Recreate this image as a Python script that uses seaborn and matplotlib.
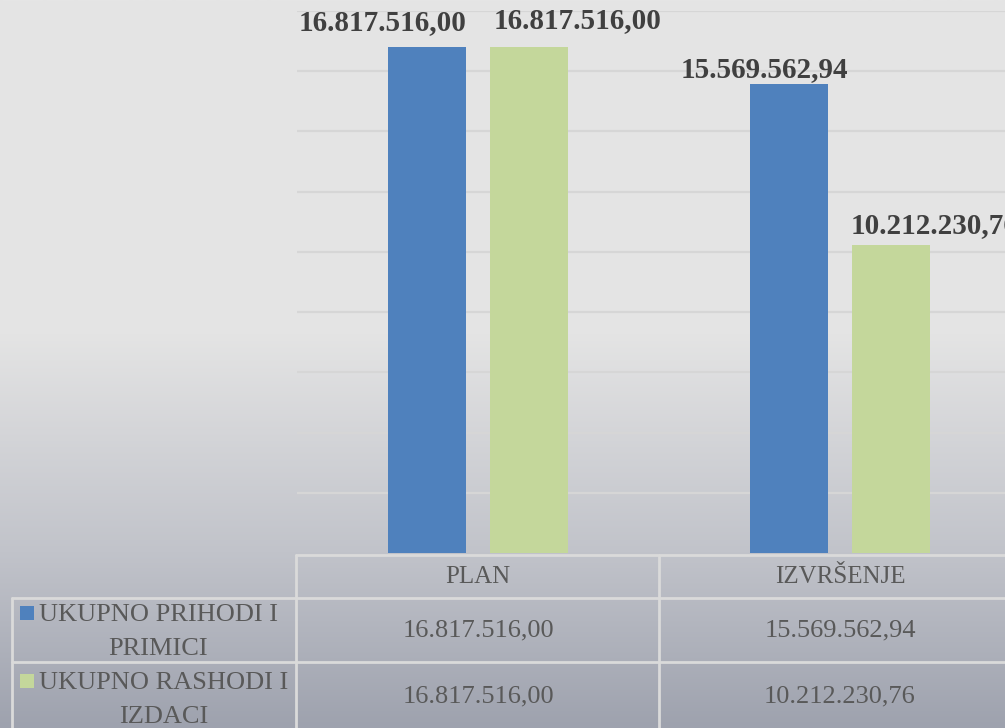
import numpy as np
import pandas as pd
import matplotlib
matplotlib.use('Agg')
import matplotlib.pyplot as plt
import matplotlib.transforms as mtransforms
from matplotlib.colors import LinearSegmentedColormap
from matplotlib.lines import Line2D
from matplotlib.patches import Rectangle
import seaborn as sns

# ── Data ─────────────────────────────────────────────────────
categories = ['PLAN', 'IZVRŠENJE']
series = ['UKUPNO PRIHODI I\nPRIMICI', 'UKUPNO RASHODI I\nIZDACI']
prihodi = [16817516.00, 15569562.94]
rashodi = [16817516.00, 10212230.76]
colors = ['#4f81bd', '#c4d79b']

df = pd.DataFrame({
    'kategorija': categories * 2,
    'serija': [series[0]] * 2 + [series[1]] * 2,
    'iznos': prihodi + rashodi,
})


def fmt(v):
    return f"{v:,.2f}".replace(",", "X").replace(".", ",").replace("X", ".")


sns.set_theme(style='white')
plt.rcParams['font.family'] = ['Liberation Serif', 'DejaVu Serif']

W, H = 1005, 728
fig = plt.figure(figsize=(W / 100, H / 100), dpi=100)

# ── background gradient ─────────────────────────────────────
bg = fig.add_axes([0, 0, 1, 1], zorder=-10)
cmap = LinearSegmentedColormap.from_list(
    'bg', [(0, '#e5e5e5'), (0.46, '#e4e4e4'), (0.76, '#c1c3ca'), (1.0, '#9ea2ae')])
bg.imshow(np.linspace(0, 1, 256).reshape(-1, 1), aspect='auto', cmap=cmap,
          extent=[0, 1, 0, 1], origin='upper')
bg.set_axis_off()


def px(x, y):
    return x / W, 1 - y / H


# ── main bar axes (extends past right edge, like the cropped original) ──
left, top = 297, 11
right, base = 1021, 553
ax = fig.add_axes([left / W, 1 - base / H, (right - left) / W, (base - top) / H])
ax.patch.set_alpha(0)
sns.barplot(data=df, x='kategorija', y='iznos', hue='serija', palette=colors,
            width=0.564, gap=0.227, saturation=1, legend=False, ax=ax,
            linewidth=0, edgecolor='none', zorder=3)
ax.set_xlim(-0.5, 1.5)
ax.set_ylim(0, 18_000_000)
ax.set_yticks(np.arange(2_000_000, 18_000_001, 2_000_000))
ax.grid(axis='y', color='#d6d6d6', lw=1.6, zorder=0)
ax.grid(axis='x', visible=False)
ax.tick_params(left=False, bottom=False, labelleft=False, labelbottom=False)
ax.set_xlabel('')
ax.set_ylabel('')
for s in ax.spines.values():
    s.set_visible(False)

# data labels (manually nudged as in the original)
offsets = [[(-44, 24), (-25, 15)], [(49, 26), (44, 20)]]
for i, cont in enumerate(ax.containers):
    for j, bar in enumerate(cont):
        dx, dy = offsets[i][j]
        ax.annotate(fmt(bar.get_height()),
                    (bar.get_x() + bar.get_width() / 2, bar.get_height()),
                    xytext=(dx * 0.72, dy * 0.72), textcoords='offset points',
                    ha='center', va='center', fontsize=21, fontweight='bold',
                    color='#404040', annotation_clip=False)

# ── data table ───────────────────────────────────────────────
lc, lw = '#dadada', 2.0


def hline(y, x0, x1):
    fig.add_artist(Line2D([x0 / W, x1 / W], [1 - y / H] * 2, color=lc, lw=lw))


def vline(x, y0, y1):
    fig.add_artist(Line2D([x / W] * 2, [1 - y0 / H, 1 - y1 / H], color=lc, lw=lw))


hline(555, 296, W)
hline(598, 12, W)
hline(662, 12, W)
vline(12, 598, H)
vline(296, 555, H)
vline(659, 555, H)

blend = mtransforms.blended_transform_factory(ax.transData, fig.transFigure)
tcol = '#595959'
for k, cat in enumerate(categories):
    fig.text(k, 1 - 577 / H, cat, transform=blend, ha='center', va='center',
             fontsize=18, color=tcol)
    fig.text(k, 1 - 630 / H, fmt(prihodi[k]), transform=blend, ha='center',
             va='center', fontsize=19, color=tcol)
    fig.text(k, 1 - 696 / H, fmt(rashodi[k]), transform=blend, ha='center',
             va='center', fontsize=19, color=tcol)

row_y = [629, 697]
for r, name in enumerate(series):
    fig.text(*px(39, row_y[r] + 3), name, ha='left', va='center', fontsize=19,
             color=tcol, linespacing=1.72, multialignment='center')
    fig.add_artist(Rectangle(px(20, row_y[r] - 9), 14 / W, 14 / H,
                             transform=fig.transFigure, color=colors[r], lw=0))

fig.savefig('out.png', dpi=100)
